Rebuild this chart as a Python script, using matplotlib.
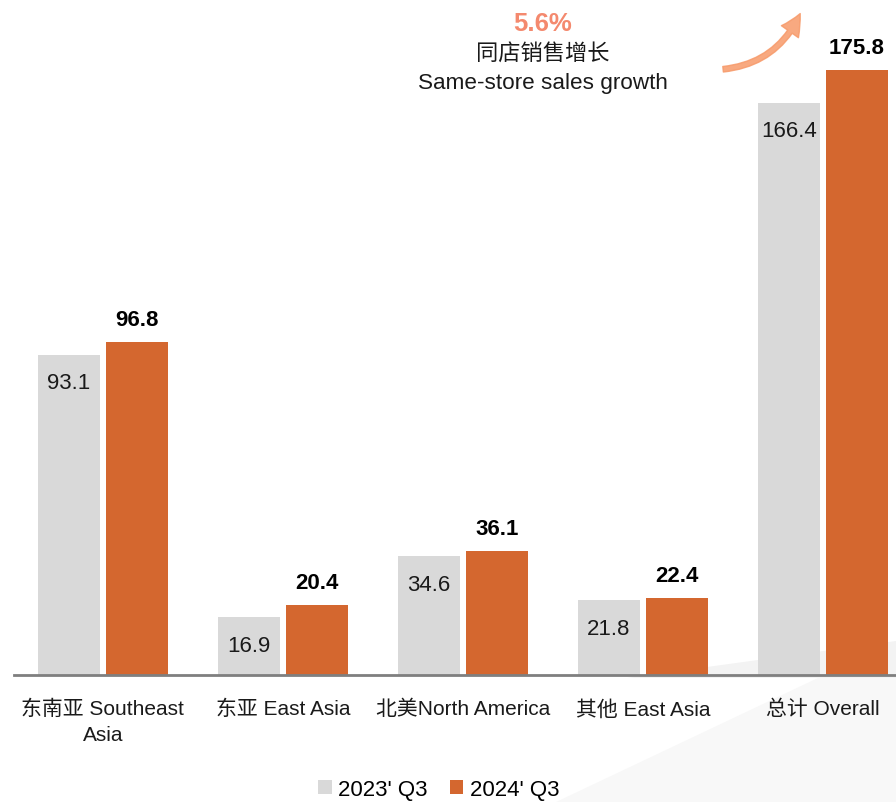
import matplotlib
matplotlib.use('Agg')
import matplotlib.pyplot as plt
from matplotlib.patches import FancyArrowPatch, Polygon
import numpy as np

# Dados
categorias = ['东南亚 Southeast\nAsia', '东亚 East Asia', '北美North America', '其他 East Asia', '总计 Overall']
q3_2023 = [93.1, 16.9, 34.6, 21.8, 166.4]
q3_2024 = [96.8, 20.4, 36.1, 22.4, 175.8]
serie_nomes = ["2023' Q3", "2024' Q3"]
crescimento = '5.6%'

cor_cinza = '#D9D9D9'
cor_laranja = '#D4672F'
fonte = ['Liberation Sans', 'Noto Sans CJK SC']
plt.rcParams['font.family'] = fonte

fig = plt.figure(figsize=(8.96, 8.03), dpi=100)
fig.patch.set_facecolor('white')

ax = fig.add_axes([14 / 896, 1 - 676 / 803, 882 / 896, 676 / 803])
ax.patch.set_alpha(0)

# fundo com formas claras (atrás das barras)
ax.add_patch(Polygon([[0.62, 0.0], [1.0, 0.0], [1.0, 0.20]], closed=True, transform=fig.transFigure,
                     facecolor='#F8F8F8', edgecolor='none', zorder=0, clip_on=False))
ax.add_patch(Polygon([[0.70, 0.155], [1.0, 0.155], [1.0, 0.20]], closed=True, transform=fig.transFigure,
                     facecolor='#F3F3F3', edgecolor='none', zorder=0, clip_on=False))

x = np.arange(len(categorias))
largura = 0.344
desl = 0.189
b1 = ax.bar(x - desl, q3_2023, largura, color=cor_cinza, label=serie_nomes[0], zorder=2)
b2 = ax.bar(x + desl, q3_2024, largura, color=cor_laranja, label=serie_nomes[1], zorder=2)

ax.set_xlim(-0.494, 4.406)
ax.set_ylim(0, 196.5)

for xi, v in zip(x, q3_2023):
    ax.text(xi - desl, v - 8.2, f'{v}', ha='center', va='center', fontsize=16, color='#1a1a1a', zorder=3)
for xi, v in zip(x, q3_2024):
    ax.text(xi + desl, v + 6.6, f'{v}', ha='center', va='center', fontsize=16,
            fontweight='bold', color='black', zorder=3)

# eixos
for lado in ['top', 'right', 'left']:
    ax.spines[lado].set_visible(False)
ax.spines['bottom'].set_color('#7F7F7F')
ax.spines['bottom'].set_linewidth(2)
ax.spines['bottom'].set_zorder(4)
ax.set_yticks([])
ax.set_xticks(x)
ax.set_xticklabels(categorias, fontsize=15, color='#1a1a1a', linespacing=1.45)
ax.tick_params(axis='x', length=0, pad=17)

# anotação de crescimento
ax.text(2.444, 189.5, crescimento, ha='center', va='center', fontsize=18.5, fontweight='bold',
        color='#F4896E', clip_on=False)
ax.text(2.444, 180.8, '同店销售增长', ha='center', va='center', fontsize=16, color='#1a1a1a')
ax.text(2.444, 172.1, 'Same-store sales growth', ha='center', va='center', fontsize=16.2, color='#1a1a1a')

seta = FancyArrowPatch((3.43, 176.0), (3.88, 193.0), connectionstyle='arc3,rad=0.3',
                       arrowstyle='simple,head_width=15,head_length=15,tail_width=4',
                       color='#F79A6A', alpha=0.85, clip_on=False, zorder=3)
ax.add_patch(seta)

fig.legend(handles=[b1, b2], labels=serie_nomes, loc='lower center', bbox_to_anchor=(0.49, -0.022),
           ncol=2, frameon=False, fontsize=16, handlelength=0.6, handleheight=0.6,
           handletextpad=0.3, columnspacing=1.0)

plt.savefig('out.png', dpi=100)
